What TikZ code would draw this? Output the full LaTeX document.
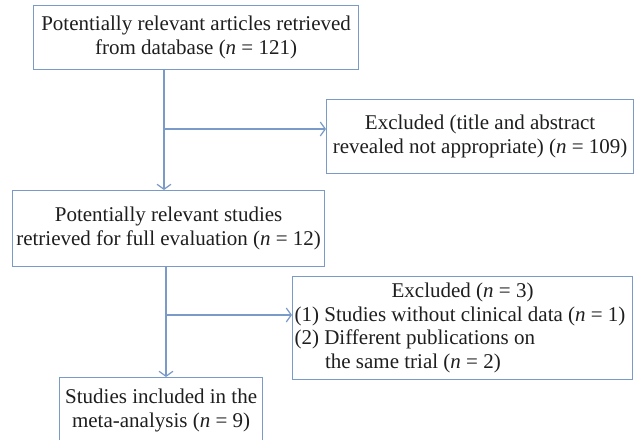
\documentclass[tikz,border=0pt]{standalone}
\usepackage{fontspec}
\setmainfont{Liberation Serif}
\usetikzlibrary{arrows.meta}
\definecolor{lineblue}{RGB}{122,154,199}
\definecolor{txt}{RGB}{30,30,30}
\tikzset{
  box/.style={draw=lineblue, line width=1.2pt, rectangle, inner sep=2pt, align=center, text=txt,
    font=\fontsize{21}{24.5}\selectfont, anchor=north west},
  conn/.style={draw=lineblue, line width=1.2pt},
  arr/.style={conn, -{Straight Barb[length=5pt, width=14pt, line width=1.2pt]}}
}
\begin{document}
\begin{tikzpicture}[x=1pt,y=-1pt]
\useasboundingbox (0,0) rectangle (634,439);
\clip (0,0) rectangle (634,439);
\node[box, minimum width=325pt, minimum height=64pt] (b1) at (33,5)
  {Potentially relevant articles retrieved\\from database (\textit{n} = 121)};
\node[box, minimum width=307pt, minimum height=74pt] (b2) at (326,99)
  {Excluded (title and abstract\\revealed not appropriate) (\textit{n} = 109)};
\node[box, minimum width=312pt, minimum height=76pt] (b3) at (12,190)
  {Potentially relevant studies\\retrieved for full evaluation (\textit{n} = 12)};
\node[box, minimum width=340pt, minimum height=103pt, text width=336pt, inner sep=2pt, align=none,
  font=\fontsize{21}{23.5}\selectfont] (b4) at (292,276)
  {{\centering Excluded (\textit{n} = 3)\par}
   \raggedright
   (1) Studies without clinical data (\textit{n} = 1)\\
   (2) Different publications on\\
   \hspace*{1.45em}the same trial (\textit{n} = 2)};
\node[box, minimum width=203pt, minimum height=66pt] (b5) at (59,377)
  {Studies included in the\\meta-analysis (\textit{n} = 9)};
\coordinate (j1) at (164,129);
\coordinate (j2) at (166,315);
\draw[arr] (j1 |- b1.south) -- (j1 |- b3.north);
\draw[arr] (j1) -- (j1 -| b2.west);
\draw[arr] (j2 |- b3.south) -- (j2 |- b5.north);
\draw[arr] (j2) -- (j2 -| b4.west);
\end{tikzpicture}
\end{document}
